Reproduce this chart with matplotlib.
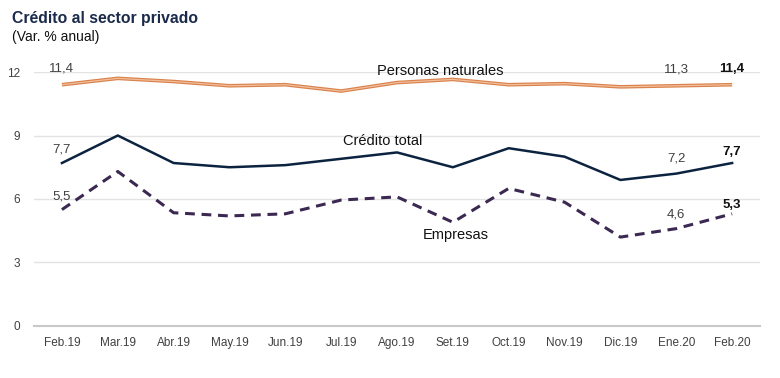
import matplotlib.pyplot as plt

plt.rcParams['font.family'] = ['Liberation Sans', 'DejaVu Sans']

# data
meses = ['Feb.19', 'Mar.19', 'Abr.19', 'May.19', 'Jun.19', 'Jul.19', 'Ago.19',
         'Set.19', 'Oct.19', 'Nov.19', 'Dic.19', 'Ene.20', 'Feb.20']
personas = [11.4, 11.7, 11.55, 11.35, 11.4, 11.1, 11.5, 11.65, 11.4, 11.45, 11.3, 11.35, 11.4]
total = [7.7, 9.0, 7.7, 7.5, 7.6, 7.9, 8.2, 7.5, 8.4, 8.0, 6.9, 7.2, 7.7]
empresas = [5.5, 7.3, 5.35, 5.2, 5.3, 5.95, 6.1, 4.9, 6.5, 5.85, 4.2, 4.6, 5.3]
yticks = [0, 3, 6, 9, 12]

x = range(len(meses))

fig = plt.figure(figsize=(7.8, 3.78), dpi=100)
ax = fig.add_axes([0.0436, 0.1376, 0.9308, 0.6719])

# personas naturales: orange line with lighter center
ax.plot(x, personas, color='#D9824D', lw=2.6, solid_capstyle='butt', clip_on=False, zorder=3)
ax.plot(x, personas, color='#F2BE9A', lw=0.9, solid_capstyle='butt', clip_on=False, zorder=4)
ax.plot(x, total, color='#0C2340', lw=1.8, clip_on=False, zorder=3)
ax.plot(x, empresas, color='#3B2952', lw=2.2, ls=(0, (3.2, 2.2)), clip_on=False, zorder=3)

ax.set_xlim(-0.5, len(meses) - 0.5)
ax.set_ylim(0, 12)
ax.set_yticks(yticks)
ax.set_yticklabels([str(v) for v in yticks])
ax.set_xticks(list(x))
ax.set_xticklabels(meses)
ax.tick_params(axis='both', length=0, labelsize=8.5, colors='#404040')
ax.tick_params(axis='x', pad=8)
ax.tick_params(axis='y', pad=10)
ax.grid(axis='y', color='#E3E3E3', lw=1)
ax.set_axisbelow(True)
for s in ['top', 'right', 'left']:
    ax.spines[s].set_visible(False)
ax.spines['bottom'].set_color('#C8C8C8')
ax.spines['bottom'].set_linewidth(1.5)

# data labels
def lab(i, serie, dy, bold=False):
    ax.annotate(f'{serie[i]:.1f}'.replace('.', ','), (i, serie[i]), xytext=(0, dy),
                textcoords='offset points', ha='center', va='center', fontsize=9.5,
                color='#111111' if bold else '#404040',
                fontweight='bold' if bold else 'normal')

lab(0, personas, 12)
lab(0, total, 10)
lab(0, empresas, 9.5)
lab(11, personas, 12)
lab(12, personas, 11, True)
lab(11, total, 11)
lab(12, total, 8, True)
lab(11, empresas, 10)
lab(12, empresas, 6.5, True)

# series labels
ax.text(6.78, 12.05, 'Personas naturales', ha='center', va='center', fontsize=10.5, color='#111111')
ax.text(5.75, 8.74, 'Crédito total', ha='center', va='center', fontsize=10.5, color='#111111')
ax.text(7.06, 4.3, 'Empresas', ha='center', va='center', fontsize=10.5, color='#111111')

fig.text(0.015, 0.952, 'Crédito al sector privado', fontsize=11.3, fontweight='bold',
         color='#1B2A4A', va='center')
fig.text(0.015, 0.902, '(Var. % anual)', fontsize=10, color='#111111', va='center')

fig.savefig('out.png', dpi=100)
